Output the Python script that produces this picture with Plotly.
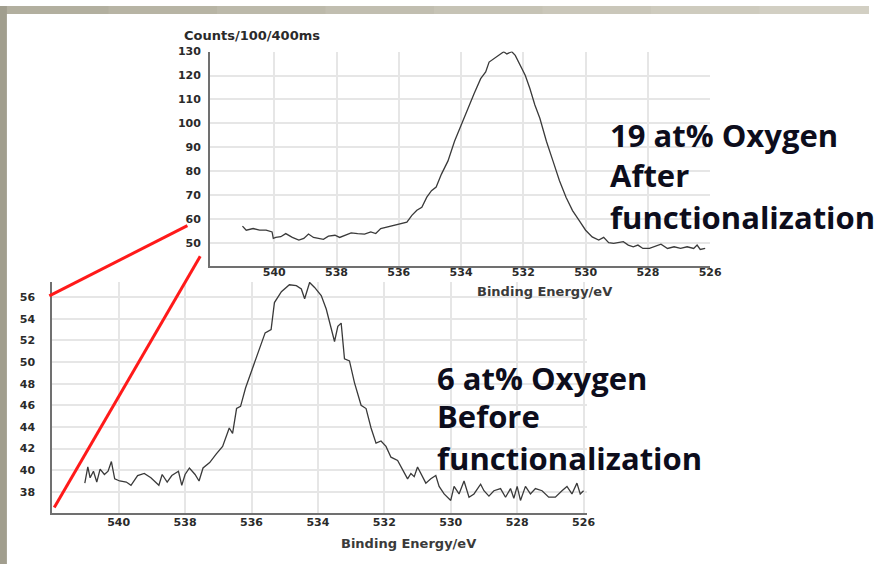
import plotly.graph_objects as go

W, H = 880, 564

# O 1s spectrum after functionalization (binding energy / eV, counts)
after_energy = [541.02, 540.90, 540.68, 540.47, 540.26, 540.07, 540.03, 539.95, 539.79, 539.63,
                539.42, 539.21, 539.05, 538.90, 538.74, 538.58, 538.42, 538.26, 538.05, 537.90,
                537.74, 537.53, 537.32, 537.10, 536.90, 536.74, 536.58, 536.37, 536.16, 535.95,
                535.74, 535.58, 535.42, 535.26, 535.10, 534.95, 534.80, 534.63, 534.42, 534.21,
                534.00, 533.79, 533.58, 533.37, 533.21, 533.10, 532.95, 532.74, 532.63, 532.53,
                532.37, 532.26, 532.10, 531.94, 531.79, 531.63, 531.47, 531.26, 531.05, 530.84,
                530.63, 530.42, 530.21, 530.00, 529.79, 529.58, 529.42, 529.26, 529.10, 528.95,
                528.79, 528.63, 528.47, 528.32, 528.16, 527.95, 527.79, 527.58, 527.37, 527.16,
                526.95, 526.74, 526.53, 526.42, 526.32, 526.16]
after_counts = [57.2, 55.5, 56.2, 55.5, 55.5, 54.8, 52.1, 52.5, 52.8, 54.1,
                52.5, 51.4, 52.1, 53.9, 52.5, 52.1, 51.7, 53.0, 53.4, 52.5,
                53.4, 54.4, 54.1, 53.9, 54.8, 54.1, 56.2, 56.9, 57.6, 58.5,
                58.9, 61.7, 63.8, 65.1, 69.3, 72.0, 73.5, 78.9, 84.4, 92.6,
                99.5, 106.4, 112.5, 118.7, 121.5, 125.6, 127.0, 129.0, 129.9, 129.0,
                129.9, 128.4, 124.2, 120.1, 114.6, 107.7, 102.2, 92.6, 84.4, 76.1,
                69.2, 63.7, 59.6, 55.5, 52.7, 51.4, 52.5, 50.3, 50.0, 50.3,
                50.7, 49.3, 48.6, 49.3, 47.9, 47.9, 48.6, 49.7, 47.9, 48.6,
                47.9, 48.6, 47.9, 49.3, 47.5, 47.9]

# O 1s spectrum before functionalization
before_energy = [541.02, 540.93, 540.86, 540.76, 540.66, 540.56, 540.43, 540.32, 540.22, 540.12,
                 539.97, 539.77, 539.63, 539.43, 539.23, 539.03, 538.79, 538.69, 538.54, 538.40,
                 538.20, 538.10, 538.00, 537.87, 537.70, 537.58, 537.46, 537.26, 537.06, 536.87,
                 536.67, 536.57, 536.45, 536.33, 536.18, 535.98, 535.78, 535.59, 535.41, 535.31,
                 535.10, 534.86, 534.65, 534.50, 534.40, 534.25, 534.10, 533.90, 533.75, 533.50,
                 533.40, 533.30, 533.20, 533.05, 532.90, 532.70, 532.55, 532.40, 532.25, 532.10,
                 531.95, 531.80, 531.60, 531.45, 531.30, 531.20, 531.10, 531.00, 530.85, 530.75,
                 530.60, 530.45, 530.35, 530.20, 530.00, 529.90, 529.75, 529.60, 529.45, 529.30,
                 529.10, 529.00, 528.85, 528.70, 528.50, 528.35, 528.20, 528.10, 528.00, 527.90,
                 527.75, 527.60, 527.45, 527.25, 527.05, 526.85, 526.65, 526.50, 526.35, 526.20,
                 526.10, 526.00]
before_counts = [38.8, 40.3, 39.3, 39.9, 38.9, 40.1, 39.6, 39.9, 40.8, 39.2,
                 39.0, 38.9, 38.6, 39.5, 39.7, 39.3, 38.6, 39.6, 38.9, 39.5,
                 39.9, 38.6, 39.6, 40.2, 39.6, 39.0, 40.2, 40.7, 41.5, 42.2,
                 43.9, 43.4, 45.7, 45.9, 47.6, 49.4, 51.2, 52.7, 53.0, 55.5,
                 56.5, 57.15, 57.06, 56.76, 55.85, 57.36, 56.9, 56.15, 54.9, 51.9,
                 53.3, 53.6, 50.3, 50.1, 48.1, 46.0, 45.7, 43.9, 42.5, 42.7,
                 42.2, 41.2, 40.9, 40.0, 39.2, 39.7, 39.4, 40.3, 39.4, 38.8,
                 39.2, 39.5, 38.5, 37.8, 37.2, 38.5, 37.8, 39.0, 37.5, 37.8,
                 38.7, 38.1, 37.6, 38.1, 38.3, 37.5, 38.3, 37.4, 38.5, 37.2,
                 38.5, 37.8, 38.3, 38.1, 37.5, 37.5, 38.1, 38.5, 37.8, 38.8,
                 37.8, 38.1]

energy_ticks = [540, 538, 536, 534, 532, 530, 528, 526]
after_count_ticks = [50, 60, 70, 80, 90, 100, 110, 120, 130]
before_count_ticks = [38, 40, 42, 44, 46, 48, 50, 52, 54, 56]

after_label = ["19 at% Oxygen", "After", "functionalization"]
before_label = ["6 at% Oxygen", "Before", "functionalization"]
y_title = "Counts/100/400ms"
x_title = "Binding Energy/eV"


def px(x):
    return x / W


def py(y):
    return 1 - y / H


LINE = "#3a3a3a"
AXIS = "#707070"
GRID = "#e6e6e6"
TICKFONT = dict(family="DejaVu Sans", size=11, color="#2a2a2a", weight="bold")

fig = go.Figure()
fig.add_trace(go.Scatter(x=before_energy, y=before_counts, mode="lines",
                         line=dict(color=LINE, width=1.3), xaxis="x", yaxis="y",
                         showlegend=False, hoverinfo="skip"))
fig.add_trace(go.Scatter(x=after_energy, y=after_counts, mode="lines",
                         line=dict(color=LINE, width=1.3), xaxis="x2", yaxis="y2",
                         showlegend=False, hoverinfo="skip"))

common_axis = dict(showline=True, linecolor=AXIS, linewidth=2, showgrid=True,
                   gridcolor=GRID, gridwidth=1.5, zeroline=False, ticks="",
                   tickfont=TICKFONT, fixedrange=True)

fig.update_layout(
    width=W, height=H, autosize=False,
    margin=dict(l=0, r=0, t=0, b=0),
    paper_bgcolor="white", plot_bgcolor="white",
    xaxis=dict(domain=[px(53), px(595)], range=[542.0, 525.9], anchor="y",
               tickvals=energy_ticks, ticklabelstandoff=-2, **common_axis),
    yaxis=dict(domain=[py(512), py(279)], range=[36.08, 57.4], anchor="x",
               tickvals=before_count_ticks, ticklabelstandoff=13, **common_axis),
    xaxis2=dict(domain=[px(213), px(720)], range=[542.06, 526.0], anchor="y2",
                tickvals=energy_ticks, ticklabelstandoff=-5, **common_axis),
    yaxis2=dict(domain=[py(263), py(46)], range=[40.5, 130], anchor="x2",
                tickvals=after_count_ticks, ticklabelstandoff=5, **common_axis),
)

shapes = []
# slide frame: top band with a light gradient, left band
top_colors = ["#b2af9f", "#b7b4a4", "#bcb9aa", "#c1beb0", "#c6c3b5", "#cac7ba", "#cecbbe", "#d2cfc3"]
seg = W / len(top_colors)
for i, c in enumerate(top_colors):
    shapes.append(dict(type="rect", xref="paper", yref="paper",
                       x0=px(i * seg), x1=px((i + 1) * seg + 1), y0=py(8), y1=py(0),
                       fillcolor=c, line=dict(width=0), layer="above"))
shapes.append(dict(type="rect", xref="paper", yref="paper",
                   x0=px(0), x1=px(7), y0=py(H), y1=py(0),
                   fillcolor="#a19e8e", line=dict(width=0), layer="above"))
# red connectors between the two count scales
for (xa, ya, xb, yb) in [(50, 293, 190, 222), (55, 507, 203, 253)]:
    shapes.append(dict(type="line", xref="paper", yref="paper",
                       x0=px(xa), y0=py(ya), x1=px(xb), y1=py(yb),
                       line=dict(color="#ff1a1a", width=3), layer="above"))
fig.update_layout(shapes=shapes)

ann = []
ann.append(dict(text=y_title, xref="paper", yref="paper", x=px(185), y=py(30),
                xanchor="left", yanchor="middle", showarrow=False,
                font=dict(family="DejaVu Sans", size=13, color="#2a2a2a", weight="bold")))
ann.append(dict(text=x_title, xref="paper", yref="paper", x=px(552), y=py(289),
                xanchor="center", yanchor="middle", showarrow=False,
                font=dict(family="DejaVu Sans", size=13, color="#3a3a3a", weight="bold")))
ann.append(dict(text=x_title, xref="paper", yref="paper", x=px(414), y=py(543),
                xanchor="center", yanchor="middle", showarrow=False,
                font=dict(family="DejaVu Sans", size=13, color="#3a3a3a", weight="bold")))

BIG = dict(family="Open Sans", size=31, color="#0d0d1c", weight="bold")
for text, y in zip(after_label, [130, 171, 213]):
    ann.append(dict(text=text, xref="paper", yref="paper", x=px(616), y=py(y),
                    xanchor="left", yanchor="middle", showarrow=False, font=BIG))
for text, y in zip(before_label, [376, 414, 457]):
    ann.append(dict(text=text, xref="paper", yref="paper", x=px(441), y=py(y),
                    xanchor="left", yanchor="middle", showarrow=False, font=BIG))
fig.update_layout(annotations=ann)

fig.write_html("out.html", config={"displayModeBar": False})
